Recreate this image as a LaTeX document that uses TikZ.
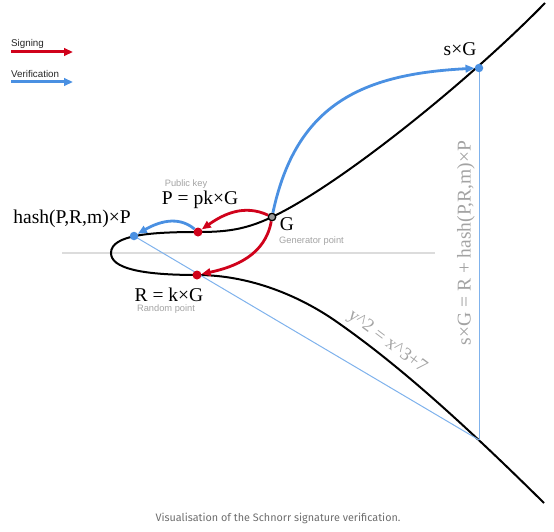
\documentclass[tikz,border=0pt]{standalone}
\usepackage{fontspec}
\setmainfont{Liberation Serif}
\newfontfamily\notefont{Liberation Sans}
\newfontfamily\capfont{Fira Sans}
\usetikzlibrary{arrows.meta,positioning,backgrounds}
\definecolor{signRed}{HTML}{D0021B}
\definecolor{verBlue}{HTML}{4A90E2}
\definecolor{lineBlue}{HTML}{7FB2EC}
\definecolor{noteGray}{HTML}{A3A3A3}
\definecolor{axisGray}{HTML}{DCDCDC}
\definecolor{capGray}{HTML}{6E6E6E}
\tikzset{
  lbl/.style    ={font=\fontsize{19.5}{22}\selectfont, inner sep=0pt},
  note/.style   ={font=\notefont\fontsize{9.3}{11}\selectfont, text=noteGray, inner sep=0pt},
  legtext/.style={font=\notefont\fontsize{9.8}{11}\selectfont, text=black!85, inner sep=0pt, anchor=west},
  reddot/.style ={circle, fill=signRed, inner sep=0pt, minimum size=9pt},
  bluedot/.style={circle, fill=verBlue, inner sep=0pt, minimum size=8.5pt},
  gendot/.style ={circle, draw=black, fill=black!40, line width=1.3pt, inner sep=0pt, minimum size=7.5pt},
  sarr/.style   ={-{Triangle[length=9pt,width=7.5pt]}, line width=2.8pt, draw=signRed},
  varr/.style   ={-{Triangle[length=9pt,width=7.5pt]}, line width=2.8pt, draw=verBlue},
  guide/.style  ={draw=lineBlue, line width=1pt},
  ecurve/.style ={draw=black, line width=2pt},
}

\begin{document}
\begin{tikzpicture}[x=1pt, y=1pt]
  \useasboundingbox (0,0) rectangle (554,-532);

  % legend
  \node[legtext] (signtxt) at (11,-44) {Signing};
  \node[legtext] (vertxt)  at (11,-74) {Verification};
  \coordinate (signA) at (11,-52);
  \coordinate (signB) at (73,-52);
  \coordinate (verA)  at (11,-82);
  \coordinate (verB)  at (73,-82);
  \draw[sarr, line width=3pt] (signA) -- (signB);
  \draw[varr, line width=3pt] (verA) -- (verB);

  % points on the curve
  \node[gendot]  (G)  at (272,-217) {};
  \node[reddot]  (P)  at (198,-232) {};
  \node[reddot]  (R)  at (197,-275) {};
  \node[bluedot] (H)  at (134,-236) {};
  \node[bluedot] (sG) at (479,-68)  {};
  \coordinate (Q) at (479,-440);

  % labels
  \node[lbl] (glbl)  at (287,-224) {G};
  \node[note, anchor=west] (gnote) at (279,-241) {Generator point};
  \node[lbl] (plbl)  at (200,-200) {P = pk×G};
  \node[note] (pnote) at (186,-184) {Public key};
  \node[lbl] (rlbl)  at (169,-295) {R = k×G};
  \node[note] (rnote) at (166,-309) {Random point};
  \node[lbl] (hlbl)  at (72,-219)  {hash(P,R,m)×P};
  \node[lbl] (sglbl) at (460,-49)  {s×G};
  \node[lbl, text=noteGray, rotate=90] (eqv) at (466,-243) {s×G = R + hash(P,R,m)×P};
  \node[font=\fontsize{18.5}{20}\selectfont, text=noteGray, inner sep=0pt, rotate=-37] (eqc)
        at (387,-342) {y\textasciicircum 2 = x\textasciicircum 3+7};
  \node[font=\capfont\fontsize{10.8}{12}\selectfont, text=capGray, inner sep=0pt] (cap)
        at (278,-518) {Visualisation of the Schnorr signature verification.};

  % axis, curve and guide lines behind the points
  \begin{scope}[on background layer]
    \coordinate (axL) at (62,-253);
    \coordinate (axR) at (435,-253);
    \draw[axisGray, line width=1.3pt] (axL) -- (axR);
    \draw[ecurve] (545,-3) .. controls (470,-80) and (340,-185) .. (272,-217)
      .. controls (245,-230) and (225,-232) .. (198,-232)
      .. controls (150,-232) and (111,-235) .. (111,-253)
      .. controls (111,-268) and (140,-275) .. (197,-275)
      .. controls (250,-275) and (300,-296) .. (337,-322)
      .. controls (390,-359) and (450,-410) .. (544,-503);
    \draw[guide] (H.center) -- (Q);
    \draw[guide] (sG.center) -- (Q);
  \end{scope}

  % signing arrows
  \draw[sarr] (G) to[out=155, in=35] (P);
  \draw[sarr] (G) to[out=-100, in=12] (R);
  % verification arrows
  \draw[varr] (P) to[out=140, in=30] (H);
  \draw[varr] (G) to[out=78, in=183, looseness=1.15] (sG);
\end{tikzpicture}
\end{document}
